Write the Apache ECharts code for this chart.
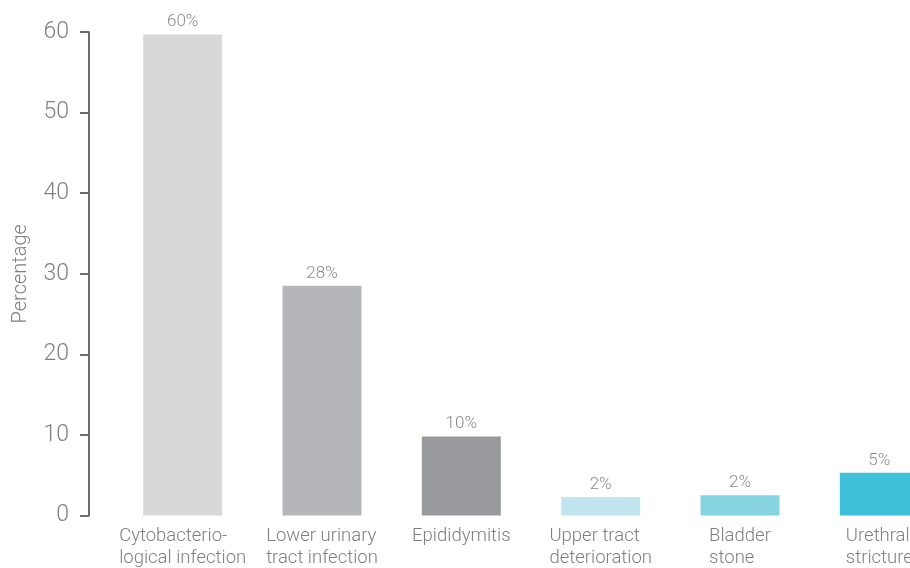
<!DOCTYPE html>
<html>
<head>
<meta charset="utf-8">
<script src="https://cdn.jsdelivr.net/npm/echarts@6/dist/echarts.min.js"></script>
<style>
html,body{margin:0;padding:0;background:#fff;overflow:hidden;width:910px;height:568px;}
#c{width:949px;height:568px;}
</style>
</head>
<body>
<div id="c"></div>
<script>
const categories = [
  "Cytobacterio-\nlogical infection",
  "Lower urinary\ntract infection",
  "Epididymitis",
  "Upper tract\ndeterioration",
  "Bladder\nstone",
  "Urethral\nstricture"
];
const values = [59.7, 28.5, 9.8, 2.3, 2.5, 5.3];
const valueLabels = ["60%", "28%", "10%", "2%", "2%", "5%"];
const barColors = ["#d7d8da", "#b5b6b9", "#98999c", "#c2e6f0", "#86d3e2", "#3dc0d8"];
const yTicks = { min: 0, max: 60, interval: 10 };

const FONT = "Roboto, 'Liberation Sans', sans-serif";
const chart = echarts.init(document.getElementById('c'), null, { renderer: 'canvas' });
chart.setOption({
  animation: false,
  grid: { left: 113, top: 32, bottom: 51, right: 0, containLabel: false },
  xAxis: {
    type: 'category',
    data: categories,
    axisLine: { show: false },
    axisTick: { show: false },
    axisLabel: {
      interval: 0,
      margin: 10,
      color: '#7f7f7f',
      fontFamily: FONT,
      fontWeight: 300,
      fontSize: 18,
      formatter: v => v.split('\n').map(s => '{l|' + s + '}').join('\n'),
      rich: {
        l: { align: 'left', fontSize: 18.5, lineHeight: 22, color: '#7f7f7f', fontFamily: FONT, fontWeight: 300 }
      }
    }
  },
  yAxis: {
    type: 'value',
    min: yTicks.min, max: yTicks.max, interval: yTicks.interval,
    offset: 24,
    name: 'Percentage',
    nameLocation: 'middle',
    nameRotate: 90,
    nameGap: 58,
    nameTextStyle: { color: '#7f7f7f', fontSize: 20, fontFamily: FONT, fontWeight: 300 },
    splitLine: { show: false },
    axisLine: { show: true, lineStyle: { color: '#6d6e71', width: 2 } },
    axisTick: { show: true, length: 9, lineStyle: { color: '#6d6e71', width: 2 } },
    axisLabel: { margin: 20, color: '#808080', fontSize: 23, fontFamily: FONT, fontWeight: 300 }
  },
  series: [{
    type: 'bar',
    barWidth: 79,
    data: values.map((v, i) => ({ value: v, itemStyle: { color: barColors[i] } })),
    label: {
      show: true,
      position: 'top',
      distance: 4,
      color: '#8a8a8a',
      fontSize: 17,
      fontFamily: FONT,
      fontWeight: 300,
      formatter: p => valueLabels[p.dataIndex]
    }
  }]
});
</script>
</body>
</html>
